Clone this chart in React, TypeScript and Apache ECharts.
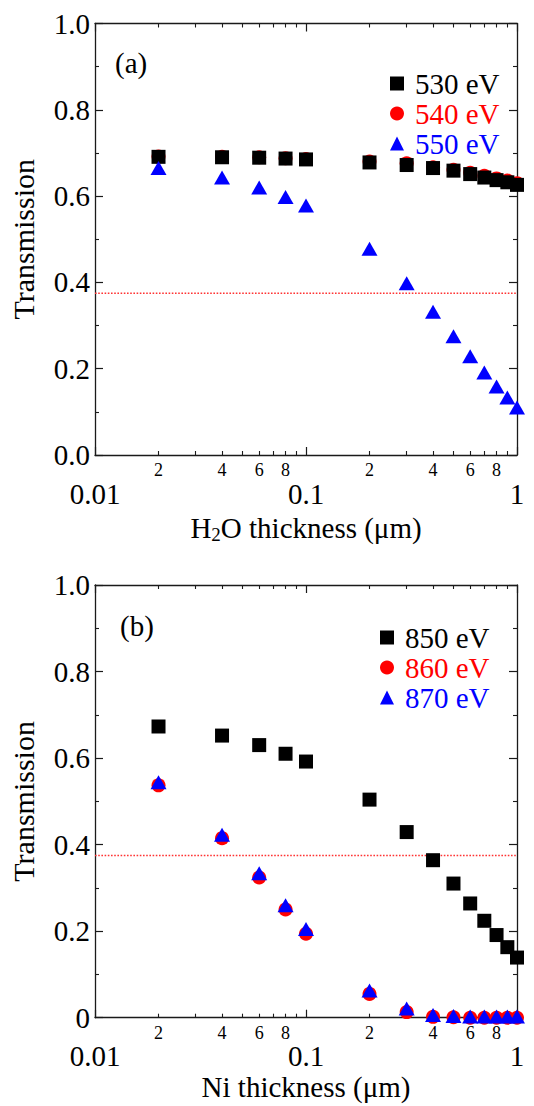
import React, { useEffect, useRef } from "react";
import * as echarts from "echarts";

// ---------- data ----------
const thickness = [0.02, 0.04, 0.06, 0.08, 0.1, 0.2, 0.3, 0.4, 0.5, 0.6, 0.7, 0.8, 0.9, 1.0];

// panel (a): H2O
const t530 = [0.691, 0.690, 0.689, 0.687, 0.685, 0.678, 0.672, 0.665, 0.659, 0.651, 0.643, 0.637, 0.632, 0.626];
const t540 = [0.692, 0.691, 0.690, 0.688, 0.686, 0.680, 0.676, 0.667, 0.661, 0.654, 0.647, 0.641, 0.636, 0.630];
const t550 = [0.665, 0.643, 0.620, 0.598, 0.578, 0.478, 0.398, 0.332, 0.275, 0.229, 0.191, 0.159, 0.133, 0.110];

// panel (b): Ni
const t850 = [0.673, 0.652, 0.630, 0.610, 0.592, 0.504, 0.429, 0.364, 0.310, 0.264, 0.224, 0.191, 0.163, 0.139];
const t860 = [0.537, 0.415, 0.324, 0.250, 0.194, 0.055, 0.013, 0.002, 0.001, 0.0, 0.0, 0.0, 0.0, 0.0];
const t870 = [0.544, 0.423, 0.334, 0.260, 0.205, 0.063, 0.021, 0.006, 0.004, 0.003, 0.003, 0.003, 0.003, 0.003];

const thresholdA = 0.375;
const thresholdB = 0.375;

// ---------- ticks / labels ----------
const xMajorTicks = [0.01, 0.1, 1];
const xMajorLabels = ["0.01", "0.1", "1"];
const xMinorTicks = [0.02, 0.03, 0.04, 0.05, 0.06, 0.07, 0.08, 0.09, 0.2, 0.3, 0.4, 0.5, 0.6, 0.7, 0.8, 0.9];
const xMinorLabelValues = [0.02, 0.04, 0.06, 0.08, 0.2, 0.4, 0.6, 0.8];
const xMinorLabels = ["2", "4", "6", "8", "2", "4", "6", "8"];
const yTicks = [0, 0.2, 0.4, 0.6, 0.8, 1.0];
const yLabelsA = ["0.0", "0.2", "0.4", "0.6", "0.8", "1.0"];
const yLabelsB = ["0", "0.2", "0.4", "0.6", "0.8", "1.0"];

const namesA = ["530 eV", "540 eV", "550 eV"];
const namesB = ["850 eV", "860 eV", "870 eV"];
const colors = ["#000000", "#ff0000", "#0000ff"];
const symbols = ["rect", "circle", "triangle"];

const FONT = "Liberation Serif, serif";
const AX = "#1a1a1a";

function findLabel(values: number[], labels: string[], v: number): string {
  const i = values.findIndex((t) => Math.abs(t - v) <= Math.abs(t) * 1e-6 + 1e-12);
  return i >= 0 ? labels[i] : "";
}

function makeXAxes(g: number, title: string) {
  const base = {
    type: "log",
    logBase: 10,
    min: 0.01,
    max: 1,
    gridIndex: g,
    splitLine: { show: false },
    minorSplitLine: { show: false },
  };
  const lineStyle = { color: AX, width: 1.3 };
  return [
    {
      ...base,
      position: "bottom",
      axisLine: { show: true, onZero: false, lineStyle },
      axisTick: { show: true, inside: true, length: 8, lineStyle: { color: AX, width: 1.2 } },
      axisLabel: {
        show: true,
        fontSize: 29,
        fontFamily: FONT,
        color: "#000",
        margin: 24,
        formatter: (v: number) => findLabel(xMajorTicks, xMajorLabels, v),
      },
      name: title,
      nameLocation: "middle",
      nameGap: 55,
      nameTextStyle: {
        fontFamily: FONT,
        color: "#000",
        rich: {
          a: { fontSize: 29, fontFamily: FONT, color: "#000", verticalAlign: "top", lineHeight: 30 },
          s: { fontSize: 19, fontFamily: FONT, color: "#000", verticalAlign: "bottom", lineHeight: 20, padding: [16, 0, 0, 0] },
        },
      },
    },
    {
      ...base,
      position: "bottom",
      axisLine: { show: false, onZero: false },
      axisTick: { show: true, inside: true, length: 4, customValues: xMinorTicks, lineStyle: { color: AX, width: 1.1 } },
      axisLabel: {
        show: true,
        customValues: xMinorLabelValues,
        fontSize: 18,
        fontFamily: FONT,
        color: "#000",
        margin: 6,
        formatter: (v: number) => findLabel(xMinorLabelValues, xMinorLabels, v),
      },
    },
    {
      ...base,
      position: "top",
      axisLine: { show: true, onZero: false, lineStyle },
      axisTick: { show: true, inside: true, length: 8, lineStyle: { color: AX, width: 1.2 } },
      axisLabel: { show: false },
    },
    {
      ...base,
      position: "top",
      axisLine: { show: false, onZero: false },
      axisTick: { show: true, inside: true, length: 4, customValues: xMinorTicks, lineStyle: { color: AX, width: 1.1 } },
      axisLabel: { show: false },
    },
  ];
}

function makeYAxes(g: number, labels: string[]) {
  const base = {
    type: "value",
    min: 0,
    max: 1,
    interval: 0.2,
    gridIndex: g,
    splitLine: { show: false },
  };
  const lineStyle = { color: AX, width: 1.3 };
  return [
    {
      ...base,
      position: "left",
      axisLine: { show: true, onZero: false, lineStyle },
      axisTick: { show: true, inside: true, length: 8, lineStyle: { color: AX, width: 1.2 } },
      minorTick: { show: true, splitNumber: 2, length: 4, lineStyle: { color: AX, width: 1.1 } },
      axisLabel: {
        show: true,
        fontSize: 29,
        fontFamily: FONT,
        color: "#000",
        margin: 5,
        formatter: (v: number) => findLabel(yTicks, labels, v),
      },
      name: "Transmission",
      nameLocation: "middle",
      nameGap: 57,
      nameTextStyle: { fontSize: 30, fontFamily: FONT, color: "#000" },
    },
    {
      ...base,
      position: "right",
      axisLine: { show: true, onZero: false, lineStyle },
      axisTick: { show: true, inside: true, length: 8, lineStyle: { color: AX, width: 1.2 } },
      minorTick: { show: true, splitNumber: 2, length: 4, lineStyle: { color: AX, width: 1.1 } },
      axisLabel: { show: false },
    },
  ];
}

function scatter(name: string, values: number[], k: number, xi: number, yi: number, z: number) {
  const size = k === 0 ? 14 : k === 1 ? 14 : [16, 14];
  return {
    type: "scatter",
    name,
    data: thickness.map((x, i) => [x, values[i]]),
    symbol: symbols[k],
    symbolSize: size,
    itemStyle: { color: colors[k], opacity: 1 },
    xAxisIndex: xi,
    yAxisIndex: yi,
    z,
    clip: false,
    emphasis: { disabled: true },
  };
}

function threshold(value: number, xi: number, yi: number) {
  return {
    type: "line",
    name: "threshold",
    data: [
      [0.01, value],
      [1, value],
    ],
    symbol: "none",
    lineStyle: { color: "#ff3333", width: 1.6, type: [1.6, 1.6] },
    xAxisIndex: xi,
    yAxisIndex: yi,
    z: 1,
    silent: true,
  };
}

function legend(names: string[], left: number, top: number) {
  return {
    orient: "vertical",
    left,
    top,
    itemWidth: 14,
    itemHeight: 14,
    itemGap: 1,
    selectedMode: false,
    textStyle: { fontSize: 29, fontFamily: FONT, padding: [0, 0, 0, 6] },
    data: names.map((n, k) => ({ name: n, icon: symbols[k], textStyle: { color: colors[k], fontFamily: FONT, fontSize: 29 } })),
  };
}

export default function App() {
  const ref = useRef<HTMLDivElement>(null);
  useEffect(() => {
    if (!ref.current) return;
    const chart = echarts.init(ref.current, undefined, { renderer: "svg" });
    const option: any = {
      animation: false,
      backgroundColor: "#ffffff",
      textStyle: { fontFamily: FONT },
      grid: [
        { left: 94, top: 23.5, width: 423, height: 431.5 },
        { left: 94, top: 585, width: 423, height: 432.7 },
      ],
      xAxis: [
        ...makeXAxes(0, "{a|H}{s|2}{a|O thickness (μm)}"),
        ...makeXAxes(1, "{a|Ni thickness (μm)}"),
      ],
      yAxis: [...makeYAxes(0, yLabelsA), ...makeYAxes(1, yLabelsB)],
      legend: [legend(namesA, 385, 64), legend(namesB, 375, 618)],
      graphic: [
        { type: "text", left: 115, top: 48, style: { text: "(a)", fontSize: 29, fontFamily: FONT, fill: "#000" } },
        { type: "text", left: 120, top: 611, style: { text: "(b)", fontSize: 29, fontFamily: FONT, fill: "#000" } },
      ],
      series: [
        threshold(thresholdA, 0, 0),
        scatter(namesA[1], t540, 1, 0, 0, 2),
        scatter(namesA[0], t530, 0, 0, 0, 3),
        scatter(namesA[2], t550, 2, 0, 0, 4),
        threshold(thresholdB, 4, 2),
        scatter(namesB[1], t860, 1, 4, 2, 2),
        scatter(namesB[0], t850, 0, 4, 2, 3),
        scatter(namesB[2], t870, 2, 4, 2, 4),
      ],
    };
    chart.setOption(option);
    return () => chart.dispose();
  }, []);
  return (
    <div
      ref={ref}
      style={{ position: "absolute", left: 0, top: 0, width: 534, height: 1106, background: "#fff" }}
    />
  );
}
